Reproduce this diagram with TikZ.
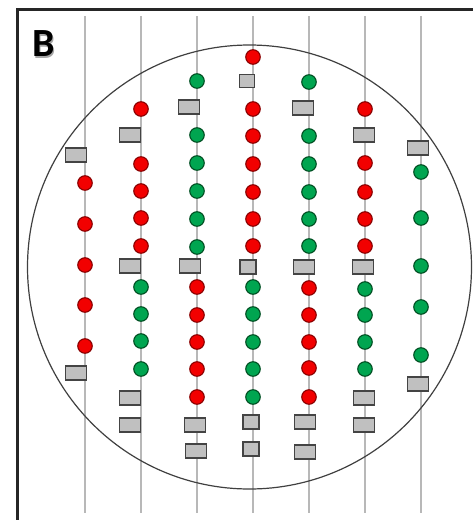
\documentclass[tikz,border=0pt]{standalone}
\usepackage{fontspec}
\newfontfamily\labelfont{Carlito}
\definecolor{dotred}{HTML}{F20000}
\definecolor{dotredb}{HTML}{8A0000}
\definecolor{dotgreen}{HTML}{00A550}
\definecolor{dotgreenb}{HTML}{004F22}
\definecolor{boxgray}{HTML}{C0C0C0}
\definecolor{boxgrayb}{HTML}{444444}
\definecolor{railgray}{HTML}{B8B8B8}
\tikzset{
  reddot/.style={circle,inner sep=0pt,minimum size=14.5pt,fill=dotred,draw=dotredb,line width=1.1pt},
  greendot/.style={circle,inner sep=0pt,minimum size=14.5pt,fill=dotgreen,draw=dotgreenb,line width=1.1pt},
  graybox/.style={rectangle,inner sep=0pt,minimum width=21pt,minimum height=14pt,fill=boxgray,draw=boxgrayb,line width=1.1pt},
  smallbox/.style={graybox,minimum width=16pt,minimum height=14pt},
  rail/.style={draw=railgray,line width=1.4pt},
  frameline/.style={draw=black!85,line width=2.2pt},
  wafer/.style={draw=black!75,line width=1.2pt},
  labelstyle/.style={font=\labelfont\bfseries\fontsize{40}{40}\selectfont,inner sep=0pt}
}
\begin{document}
\begin{tikzpicture}[x=1pt,y=-1pt]
\useasboundingbox (0,0) rectangle (473,520);
\fill[white] (0,0) rectangle (473,520);
% frame
\coordinate (ftr) at (475,9.5);
\coordinate (ftl) at (17.5,9.5);
\coordinate (fbl) at (17.5,522);
\draw[frameline] (ftr) -- (ftl) -- (fbl);
% rails
\foreach \i in {0,...,6}{
  \coordinate (rt\i) at ({85+56*\i},16);
  \coordinate (rb\i) at ({85+56*\i},513);
  \draw[rail] (rt\i) -- (rb\i);
}
% wafer
\coordinate (wc) at (249.5,267);
\draw[wafer] (wc) circle (222);
% label
\node[labelstyle,text=black!35] (labshadow) at (45.2,45.2) {B};
\node[labelstyle,text=black] (lab) at (44,44) {B};
% column 0
\foreach \y [count=\k] in {183,224,265,305,346} \node[reddot] (r0-\k) at (85,\y) {};
\node[graybox] (b0-1) at (76,155) {};
\node[graybox] (b0-2) at (76,373) {};
% column 1
\foreach \y [count=\k] in {109,164,191,218,246} \node[reddot] (r1-\k) at (141,\y) {};
\foreach \y [count=\k] in {287,314,341,369} \node[greendot] (g1-\k) at (141,\y) {};
\node[graybox] (b1-1) at (130,135) {};
\node[graybox] (b1-2) at (130,266) {};
\node[graybox] (b1-3) at (130,398) {};
\node[graybox] (b1-4) at (130,425) {};
% column 2
\foreach \y [count=\k] in {81,135,163,191,219,247} \node[greendot] (g2-\k) at (197,\y) {};
\foreach \y [count=\k] in {287,315,342,369,397} \node[reddot] (r2-\k) at (197,\y) {};
\node[graybox] (b2-1) at (189,107) {};
\node[graybox] (b2-2) at (190,266) {};
\node[graybox] (b2-3) at (195,425) {};
\node[graybox] (b2-4) at (196,451) {};
% column 3
\foreach \y [count=\k] in {57,109,136,164,192,219,246} \node[reddot] (r3-\k) at (253,\y) {};
\foreach \y [count=\k] in {287,314,342,369,397} \node[greendot] (g3-\k) at (253,\y) {};
\node[smallbox,minimum width=15pt,minimum height=13pt] (b3-1) at (247,81) {};
\node[smallbox] (b3-2) at (248,267) {};
\node[smallbox] (b3-3) at (251,422) {};
\node[smallbox] (b3-4) at (251,449) {};
% column 4
\foreach \y [count=\k] in {82,136,164,192,219,246} \node[greendot] (g4-\k) at (309,\y) {};
\foreach \y [count=\k] in {288,315,342,368,397} \node[reddot] (r4-\k) at (309,\y) {};
\node[graybox] (b4-1) at (303,108) {};
\node[graybox] (b4-2) at (304,267) {};
\node[graybox] (b4-3) at (305,422) {};
\node[graybox] (b4-4) at (305,452) {};
% column 5
\foreach \y [count=\k] in {109,163,192,219,246} \node[reddot] (r5-\k) at (365,\y) {};
\foreach \y [count=\k] in {289,315,342,369} \node[greendot] (g5-\k) at (365,\y) {};
\node[graybox] (b5-1) at (364,135) {};
\node[graybox] (b5-2) at (363,267) {};
\node[graybox] (b5-3) at (364,398) {};
\node[graybox] (b5-4) at (364,425) {};
% column 6
\foreach \y [count=\k] in {172,218,266,307,355} \node[greendot] (g6-\k) at (421,\y) {};
\node[graybox] (b6-1) at (418,148) {};
\node[graybox] (b6-2) at (418,384) {};
\end{tikzpicture}
\end{document}
